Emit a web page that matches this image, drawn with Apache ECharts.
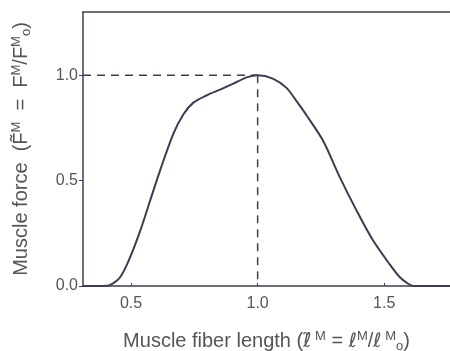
<!DOCTYPE html>
<html><head><meta charset="utf-8">
<script src="https://cdn.jsdelivr.net/npm/echarts@6/dist/echarts.min.js"></script>
<style>html,body{margin:0;padding:0;background:#fff}#c{width:450px;height:351px}</style>
</head><body><div id="c"></div>
<script>
const fiberLength = [0.31, 0.39, 0.418, 0.458, 0.497, 0.537, 0.576, 0.615, 0.668, 0.707, 0.746, 0.799, 0.852, 0.904, 0.957, 1.0, 1.06, 1.114, 1.153, 1.193, 1.258, 1.324, 1.39, 1.455, 1.521, 1.56, 1.593, 1.615, 1.76];
const muscleForce = [0, 0, 0.005, 0.044, 0.139, 0.265, 0.408, 0.55, 0.725, 0.815, 0.87, 0.905, 0.932, 0.96, 0.99, 1.0, 0.984, 0.94, 0.878, 0.81, 0.69, 0.518, 0.36, 0.218, 0.104, 0.044, 0.012, 0, 0];
const xTicks = [0.5, 1.0, 1.5];
const yTicks = [0.0, 0.5, 1.0];
const hDashX = [0.31, 1.0], hDashY = [1.0, 1.0];
const vDashX = [1.0, 1.0], vDashY = [1.0, 0];

const ink = '#3c3c52', txt = '#555';
const font = 'Liberation Sans';
const richStyles = {
  n: {fontSize: 20, color: txt, fontFamily: font},
  i: {fontSize: 20, color: txt, fontFamily: 'DejaVu Sans'},
  s: {fontSize: 13, color: txt, fontFamily: font, verticalAlign: 'top', padding: [0, 0, 10, 0]},
  b: {fontSize: 13, color: txt, fontFamily: font, verticalAlign: 'bottom', padding: [8, 0, 0, 0]}
};
const chart = echarts.init(document.getElementById('c'));
chart.setOption({
  backgroundColor: '#fff',
  animation: false,
  grid: {left: 83, top: 12, right: 0, bottom: 65, outerBoundsMode: 'none', containLabel: false},
  xAxis: [{
    type: 'value', min: 0.31, max: 1.76,
    axisLine: {show: true, lineStyle: {color: ink, width: 1.5}},
    axisTick: {show: true, inside: true, length: 3, customValues: xTicks, lineStyle: {color: ink}},
    axisLabel: {customValues: xTicks, formatter: v => v.toFixed(1), color: txt, fontSize: 16, fontFamily: font, margin: 10},
    splitLine: {show: false},
    name: '{n|Muscle fiber length (}{i|ℓ̃}{s| M} {n|= }{i|ℓ}{s|M}{n|/}{i|ℓ}{s| M}{b|o}{n|)}',
    nameLocation: 'middle', nameGap: 44,
    nameTextStyle: {color: txt, fontSize: 20, fontFamily: font, rich: richStyles}
  }, {
    type: 'value', position: 'top', min: 0.31, max: 1.76,
    axisLine: {show: true, lineStyle: {color: ink, width: 1.5}},
    axisTick: {show: false}, axisLabel: {show: false}, splitLine: {show: false}
  }],
  yAxis: {
    type: 'value', min: 0, max: 1.3,
    axisLine: {show: true, lineStyle: {color: ink, width: 1.5}},
    axisTick: {show: true, length: 4, customValues: yTicks, lineStyle: {color: ink}},
    axisLabel: {customValues: yTicks, formatter: v => v.toFixed(1), color: txt, fontSize: 16, fontFamily: font, margin: 5},
    splitLine: {show: false},
    name: '{n|Muscle force  (}{n|F̃}{s|M} {n| =  F}{s|M}{n|/F}{s|M}{b|o}{n|)}',
    nameLocation: 'middle', nameGap: 50, nameRotate: 90,
    nameTextStyle: {color: txt, fontSize: 20, fontFamily: font, rich: richStyles}
  },
  series: [{
    type: 'line', data: fiberLength.map((x, i) => [x, muscleForce[i]]),
    smooth: 0.3, showSymbol: false, lineStyle: {color: ink, width: 2}, z: 3
  }, {
    type: 'line', data: hDashX.map((x, i) => [x, hDashY[i]]),
    showSymbol: false, lineStyle: {color: ink, width: 1.5, type: [8, 6]}
  }, {
    type: 'line', data: vDashX.map((x, i) => [x, vDashY[i]]),
    showSymbol: false, lineStyle: {color: ink, width: 1.5, type: [8, 6]}
  }]
});
</script></body></html>
